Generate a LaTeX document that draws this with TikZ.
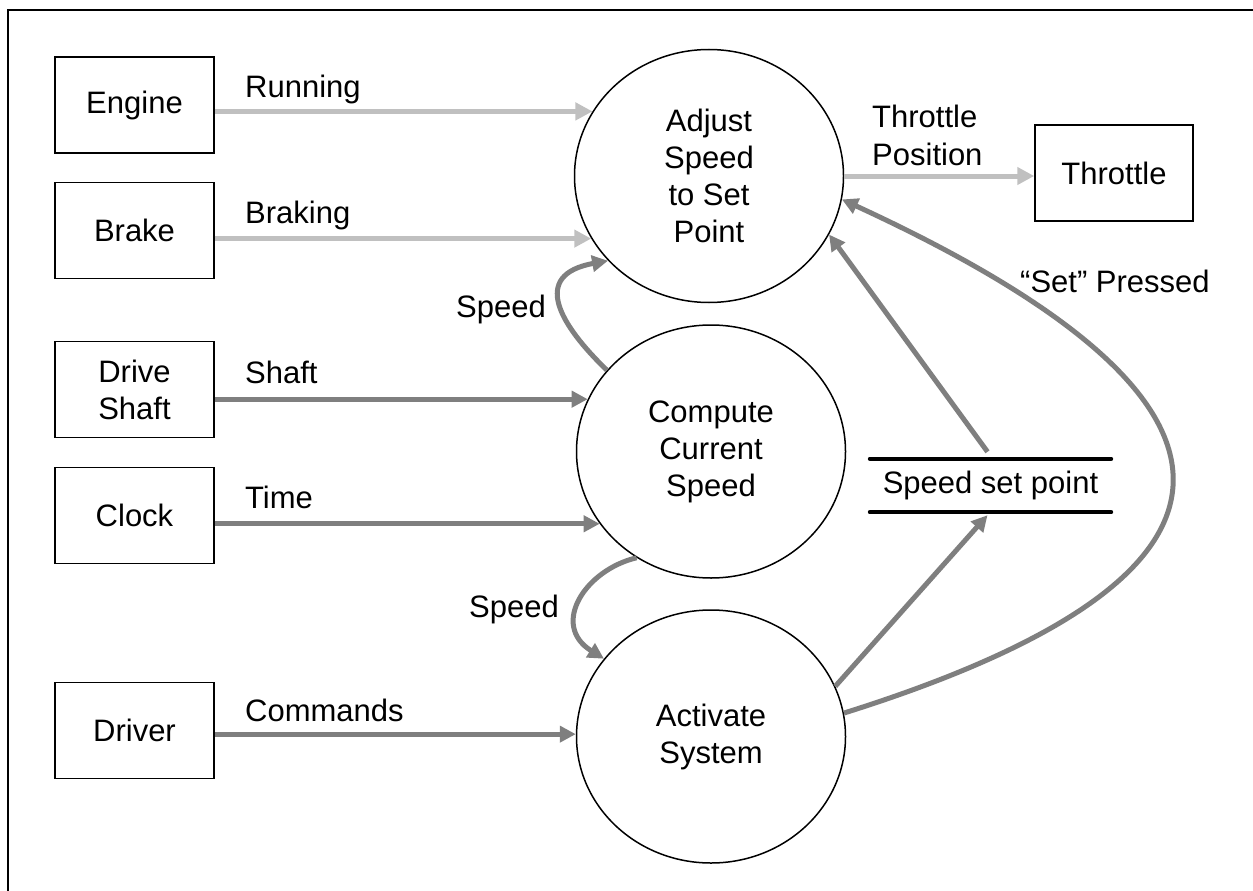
\documentclass[tikz,border=0pt]{standalone}
\usepackage{fontspec}
\setmainfont{Liberation Sans}
\usetikzlibrary{arrows.meta,shapes.geometric}
\definecolor{flowlight}{HTML}{C0C0C0}
\definecolor{flowdark}{HTML}{7F7F7F}
\begin{document}
\begin{tikzpicture}[x=1pt,y=-1pt,
  every node/.style={font=\fontsize{31}{37}\selectfont},
  entity/.style={draw=black,line width=1.5pt,minimum width=159pt,minimum height=96pt,inner sep=0pt,align=center},
  proc/.style={ellipse,draw=black,line width=1.5pt,minimum width=269pt,minimum height=253pt,inner sep=0pt,align=center},
  lbl/.style={inner sep=0pt,anchor=base west},
  lblr/.style={inner sep=0pt,anchor=base east},
  lite/.style={draw=flowlight,line width=5pt,-{Triangle[length=17pt,width=17pt]}},
  dark/.style={draw=flowdark,line width=5pt,-{Triangle[length=16pt,width=16pt]}},
  storeline/.style={line width=4pt,line cap=round}
]
\useasboundingbox (0,0) rectangle (1253,891);
% outer frame
\draw[line width=2pt] (1263,10) -- (8,10) -- (8,901);

% external entities
\node[entity] (eng) at (134.5,105) {Engine};
\node[entity] (brk) at (134.5,230.5) {Brake};
\node[entity] (dsh) at (134.5,389.5) {Drive\\Shaft};
\node[entity] (clk) at (134.5,515.5) {Clock};
\node[entity] (drv) at (134.5,730.5) {Driver};
\node[entity,minimum width=158pt] (thr) at (1114,173) {Throttle};

% processes
\node[proc] (adj) at (709,176) {Adjust\\Speed\\to Set\\Point};
\node[proc] (cmp) at (711,451.5) {Compute\\Current\\Speed};
\node[proc] (act) at (711,736.5) {Activate\\System};

% data store
\node[inner sep=0pt,minimum width=241pt,minimum height=53pt] (sp) at (990.5,485.5) {Speed set point};
\draw[storeline] (sp.north west) -- (sp.north east);
\draw[storeline] (sp.south west) -- (sp.south east);

% flow labels
\node[lbl] (lrun) at (245,97) {Running};
\node[lbl] (lbrk) at (245,223) {Braking};
\node[lbl] (lsh) at (245,383) {Shaft};
\node[lbl] (ltim) at (245,508) {Time};
\node[lbl] (lcmd) at (245,721) {Commands};
\node[lblr] (lsp1) at (546,317) {Speed};
\node[lblr] (lsp2) at (559,617) {Speed};
\node[lbl] (lthr1) at (872,127) {Throttle};
\node[lbl] (lthr2) at (872,165) {Position};
\node[lbl] (lset) at (1020,292) {“Set” Pressed};

% flows
\draw[lite] (eng.east |- adj.151) -- (adj.151);
\draw[lite] (brk.east |- adj.208) -- (adj.208);
\draw[lite] (adj.east) -- (thr.west |- adj.east);
\draw[dark] (dsh.east |- cmp.157) -- (cmp.157);
\draw[dark] (clk.east |- cmp.213) -- (cmp.213);
\draw[dark] (drv.east |- act.179) -- (act.179);
\draw[dark] (cmp.142) .. controls (560,325) and (530,275) .. (adj.220);
\draw[dark] (cmp.235) .. controls (585,570) and (550,625) .. (act.144);
\draw[dark] ([xshift=-3pt,yshift=7pt]sp.north) -- (adj.334);
\draw[dark] (act.22) -- ([xshift=-3pt,yshift=-3pt]sp.south);
\draw[dark] (act.10) .. controls (1293,572) and (1269,396) .. (adj.350);
\end{tikzpicture}
\end{document}
